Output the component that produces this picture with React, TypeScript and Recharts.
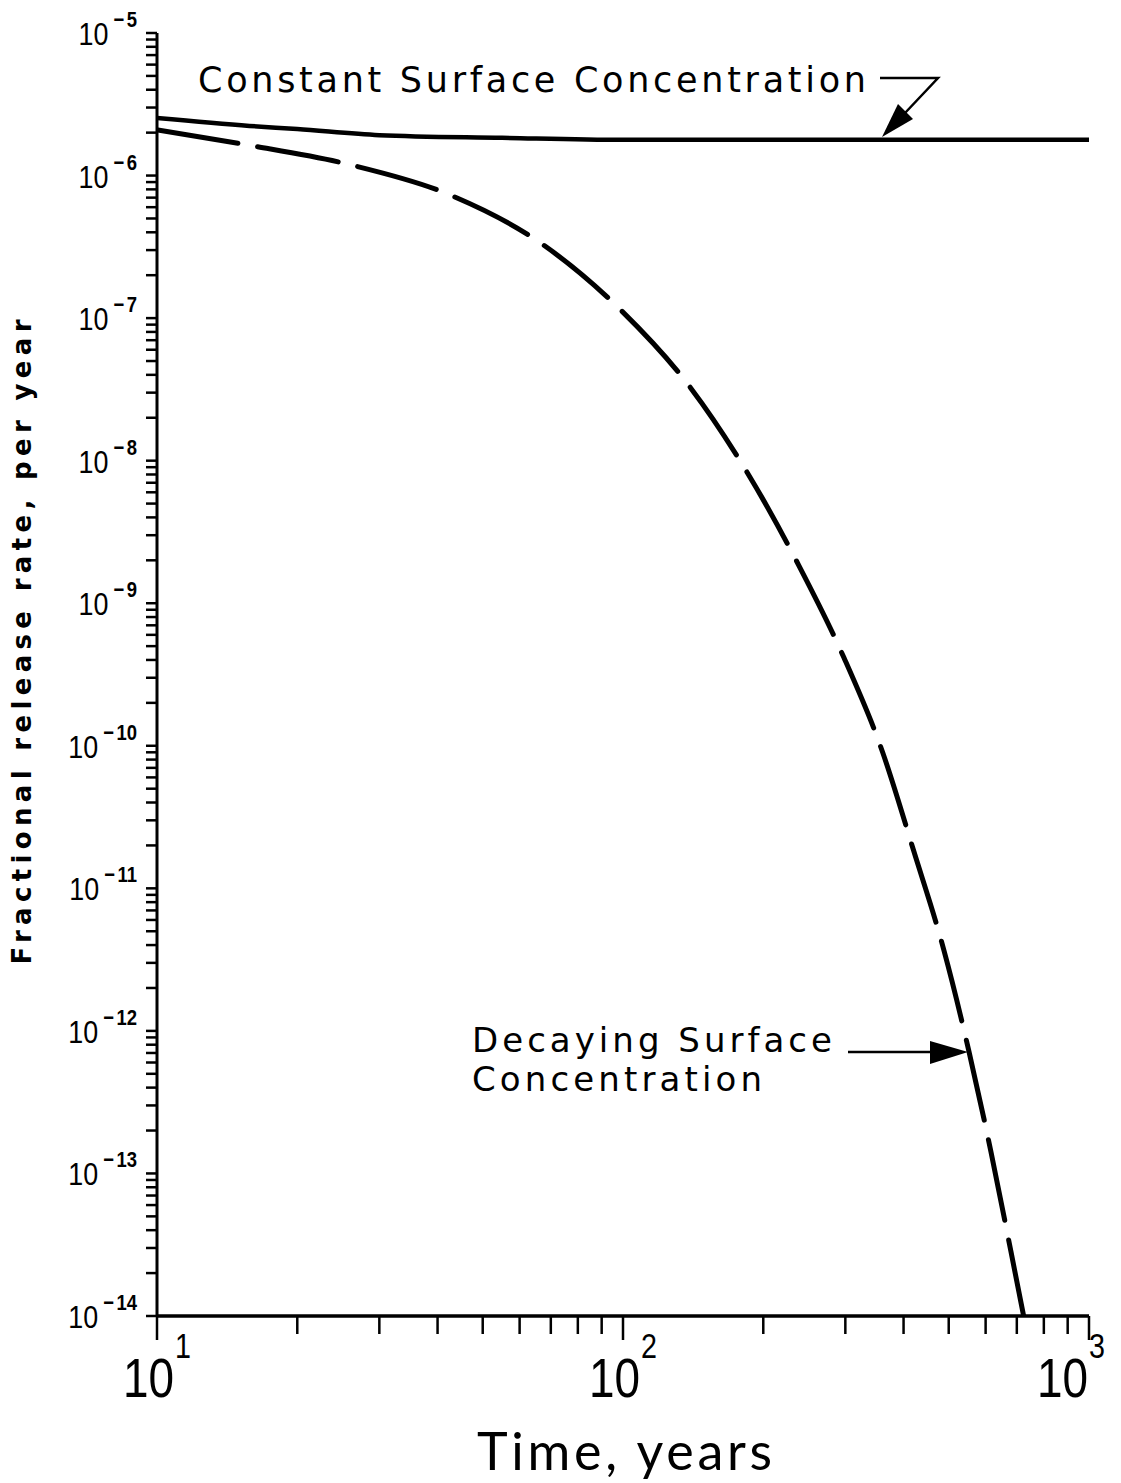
import React from "react";
import { LineChart, Line, XAxis, YAxis } from "recharts";

// constant surface concentration (solid)
const constTime = [10, 15.8, 20, 30, 55, 100, 1000];
const constRate = [2.53e-6, 2.23e-6, 2.12e-6, 1.92e-6, 1.84e-6, 1.78e-6, 1.78e-6];

// decaying surface concentration (dashed)
const decayTime = [10, 15.6, 26, 42.6, 66.5, 98.9, 139.7, 185, 238, 298, 361, 421, 488, 553, 616, 680, 724];
const decayRate = [
  2.09e-6, 1.64e-6, 1.19e-6, 7.3e-7, 3.37e-7, 1.14e-7, 3.24e-8, 8.2e-9, 1.86e-9,
  4.14e-10, 8.93e-11, 1.81e-11, 3.7e-12, 7.1e-13, 1.42e-13, 2.83e-14, 1e-14,
];

// axis ticks
const xDecades = [1, 2];
const yDecades = [-14, -13, -12, -11, -10, -9, -8, -7, -6];
const minorSteps = [1, 2, 3, 4, 5, 6, 7, 8, 9];

const xTicks = [...xDecades.flatMap((e) => minorSteps.map((m) => m * Math.pow(10, e))), 1000];
const yTicks = [...yDecades.flatMap((e) => minorSteps.map((m) => m * Math.pow(10, e))), 1e-5];

const constData = constTime.map((t, i) => ({ t, v: constRate[i] }));
const decayData = decayTime.map((t, i) => ({ t, v: decayRate[i] }));

const tickFont = "'Liberation Sans', Arial, sans-serif";
const labelFont = "'DejaVu Sans', sans-serif";
const noLig = { fontVariantLigatures: "none" } as React.CSSProperties;

const isDecade = (v: number) => {
  const l = Math.log10(v);
  return Math.abs(l - Math.round(l)) < 1e-6;
};

const XTick = (props: any) => {
  const { x, y, payload } = props;
  const v = payload.value;
  const major = isDecade(v);
  const exp = Math.round(Math.log10(v));
  const dx = v === 1000 ? -18 : 0;
  return (
    <g>
      <line x1={x} x2={x} y1={y} y2={y + (major ? 24 : 18)} stroke="#000" strokeWidth={2.5} />
      {major && (
        <g transform={`translate(${x + dx},${y + 81}) scale(0.82,1)`}>
          <text x={0} y={0} textAnchor="middle" fontFamily={tickFont} fontSize={56} fill="#000">
            10
            <tspan dx={1} dy={-39} fontSize={35}>
              {exp}
            </tspan>
          </text>
        </g>
      )}
    </g>
  );
};

const YTick = (props: any) => {
  const { x, y, payload } = props;
  const v = payload.value;
  const major = isDecade(v);
  const exp = Math.round(Math.log10(v));
  return (
    <g>
      <line x1={x - 11} x2={x} y1={y} y2={y} stroke="#000" strokeWidth={2.5} />
      {major && (
        <g transform={`translate(${x - 20},${y + 12}) scale(0.84,1)`}>
          <text x={0} y={0} textAnchor="end" fontFamily={tickFont} fontSize={32} fill="#000">
            10
            <tspan dx={6} dy={-18} fontSize={22} fontWeight="bold">
              {"\u2212"}
            </tspan>
            <tspan dx={3} fontSize={22} fontWeight="bold">
              {Math.abs(exp)}
            </tspan>
          </text>
        </g>
      )}
    </g>
  );
};

export default function App() {
  return (
    <div style={{ position: "relative", width: 1121, height: 1483, background: "#fff" }}>
      <style>{"body{margin:0;background:#fff}"}</style>
      <LineChart width={1121} height={1483} margin={{ top: 33, right: 32, bottom: 0, left: 0 }}>
        <XAxis
          dataKey="t"
          type="number"
          scale="log"
          domain={[10, 1000]}
          ticks={xTicks}
          interval={0}
          tickSize={0}
          tickMargin={0}
          tick={<XTick />}
          tickLine={false}
          height={167}
          axisLine={{ stroke: "#000", strokeWidth: 3.5 }}
          allowDataOverflow
        />
        <XAxis
          xAxisId="top"
          orientation="top"
          type="number"
          scale="log"
          domain={[10, 1000]}
          tick={false}
          tickLine={false}
          height={0}
          axisLine={{ stroke: "#000", strokeWidth: 2.5 }}
        />
        <YAxis
          dataKey="v"
          type="number"
          scale="log"
          domain={[1e-14, 1e-5]}
          ticks={yTicks}
          interval={0}
          tickSize={0}
          tickMargin={0}
          tick={<YTick />}
          tickLine={false}
          width={157}
          axisLine={{ stroke: "#000", strokeWidth: 3 }}
          allowDataOverflow
        />
        <YAxis
          yAxisId="right"
          orientation="right"
          type="number"
          scale="log"
          domain={[1e-14, 1e-5]}
          tick={false}
          tickLine={false}
          width={0}
          axisLine={{ stroke: "#000", strokeWidth: 2.5 }}
        />
        <Line
          data={constData}
          dataKey="v"
          type="monotone"
          stroke="#000"
          strokeWidth={4.5}
          dot={false}
          activeDot={false}
          isAnimationActive={false}
        />
        <Line
          data={decayData}
          dataKey="v"
          type="monotone"
          stroke="#000"
          strokeWidth={5}
          strokeDasharray="82 20"
          strokeLinecap="round"
          dot={false}
          activeDot={false}
          isAnimationActive={false}
        />
      </LineChart>

      {/* annotations and axis titles */}
      <svg
        width={1121}
        height={1483}
        style={{ position: "absolute", left: 0, top: 0, pointerEvents: "none", ...noLig }}
      >
        <text x={198} y={92} fontFamily={labelFont} fontSize={35} textLength={668} lengthAdjust="spacing" fill="#000">
          Constant Surface Concentration
        </text>
        <polyline points="880,78 938,78 905,113" fill="none" stroke="#000" strokeWidth={2.5} />
        <polygon points="882,137 913,119 898,104" fill="#000" />

        <text x={472} y={1052} fontFamily={labelFont} fontSize={34} textLength={360} lengthAdjust="spacing" fill="#000">
          Decaying Surface
        </text>
        <text x={472} y={1091} fontFamily={labelFont} fontSize={34} textLength={290} lengthAdjust="spacing" fill="#000">
          Concentration
        </text>
        <line x1={848} x2={935} y1={1052} y2={1052} stroke="#000" strokeWidth={2.5} />
        <polygon points="968,1052 930,1041 930,1064" fill="#000" />

        <text
          transform="translate(31,642) rotate(-90)"
          textAnchor="middle"
          fontFamily={labelFont}
          fontWeight="bold"
          fontSize={26}
          textLength={645}
          lengthAdjust="spacing"
          fill="#000"
        >
          Fractional release rate, per year
        </text>

        <text
          x={477}
          y={1470}
          fontFamily="Lato, 'DejaVu Sans', sans-serif"
          fontSize={52}
          textLength={295}
          lengthAdjust="spacing"
          fill="#000"
        >
          Time, years
        </text>
      </svg>
    </div>
  );
}
